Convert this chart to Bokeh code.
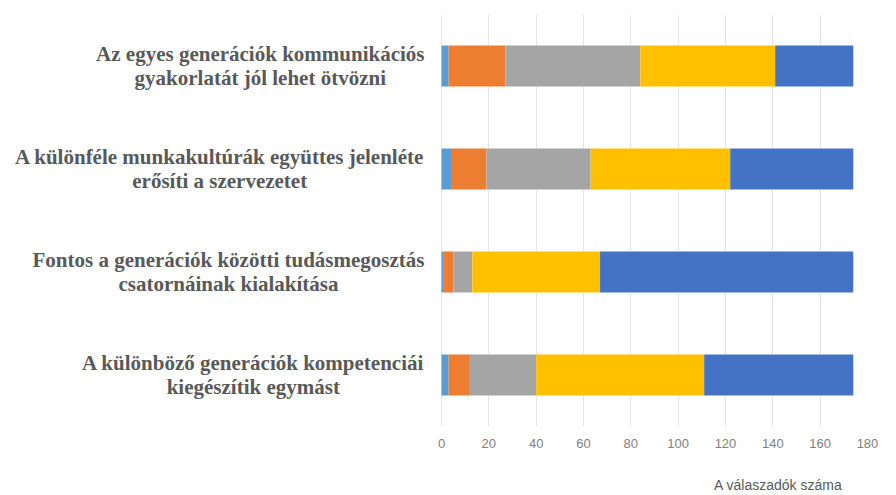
from bokeh.plotting import figure
from bokeh.models import FactorRange, Range1d, ColumnDataSource, Title
from bokeh.core.properties import value
from bokeh.embed import file_html
from bokeh.resources import INLINE

categories = [
    "Az egyes generációk kommunikációs\ngyakorlatát jól lehet ötvözni",
    "A különféle munkakultúrák együttes jelenléte\nerősíti a szervezetet",
    "Fontos a generációk közötti tudásmegosztás\ncsatornáinak kialakítása",
    "A különböző generációk kompetenciái\nkiegészítik egymást",
]
series_names = ["1", "2", "3", "4", "5"]
s1 = [3, 4, 1, 3]
s2 = [24, 15, 4, 9]
s3 = [57, 44, 8, 28]
s4 = [57, 59, 54, 71]
s5 = [33, 52, 107, 63]
colors = ["#5B9BD5", "#ED7D31", "#A5A5A5", "#FFC000", "#4472C4"]
x_ticks = [0, 20, 40, 60, 80, 100, 120, 140, 160, 180]
x_title = "A válaszadók száma"

W, H = 880, 495
frame_right = 867
zero_px = 441           # pixel where the value axis starts
x_max = 180
ppu = (frame_right - zero_px) / x_max
x_start = -zero_px / ppu
label_gap = 17 / ppu

source = ColumnDataSource(dict(cat=categories, **{n: v for n, v in zip(series_names, [s1, s2, s3, s4, s5])}))
lab_src = ColumnDataSource(dict(cat=categories, x=[-label_gap] * len(categories)))

p = figure(width=W, height=H, output_backend="svg", toolbar_location=None,
           y_range=FactorRange(factors=categories[::-1]), x_range=Range1d(x_start, x_max),
           min_border_left=0, min_border_right=W - frame_right, min_border_top=14,
           min_border_bottom=H - 14 - 412)

p.hbar_stack(series_names, y="cat", height=0.4, color=colors, source=source, line_width=0)

p.text(x="x", y="cat", text="cat", source=lab_src, anchor="center_right", text_align="center",
       text_baseline="middle", text_font=value("Liberation Serif"), text_font_style="bold",
       text_font_size=value("21px"), text_line_height=0.98, text_color="#595959")

p.outline_line_color = None
p.ygrid.grid_line_color = None
p.xgrid.grid_line_color = "#E6E6E6"
p.xgrid.grid_line_width = 1
p.xaxis.ticker = x_ticks
p.xaxis.axis_line_color = None
p.xaxis.major_tick_line_color = None
p.xaxis.minor_tick_line_color = None
p.xaxis.major_label_text_color = "#7F7F7F"
p.xaxis.major_label_text_font = "Liberation Sans"
p.xaxis.major_label_text_font_size = "13px"
p.xaxis.major_label_standoff = 6
p.yaxis.visible = False

# spacer between the tick labels and the axis title
p.add_layout(Title(text=" ", text_font_size="18px", standoff=0), "below")
p.add_layout(Title(text=x_title, align="right", offset=25, text_font="Liberation Sans",
                   text_font_size="14px", text_font_style="normal", text_color="#595959",
                   standoff=4), "below")

open("out.html", "w").write(file_html(p, INLINE))
